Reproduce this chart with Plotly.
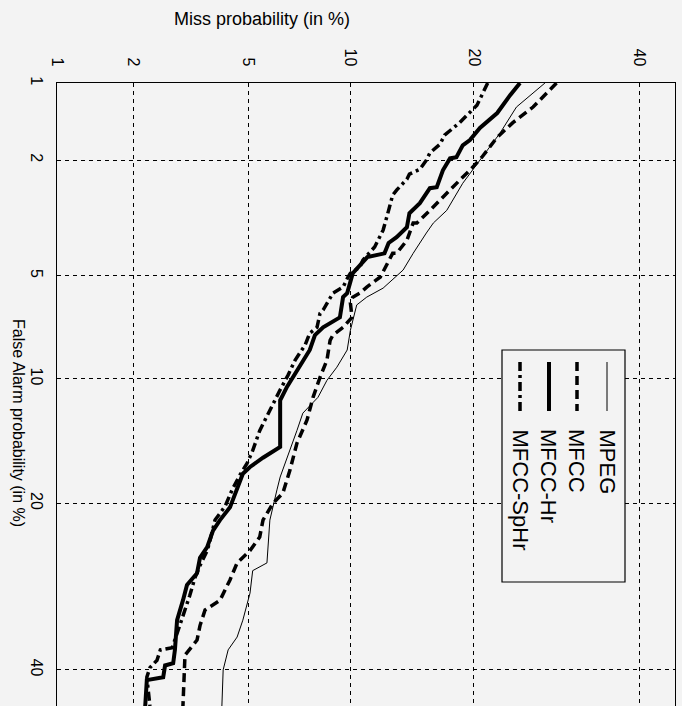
import plotly.graph_objects as go
from statistics import NormalDist

_nd = NormalDist()


def probit(p):
    return _nd.inv_cdf(p / 100.0)


# ---------------- data (percentages) ----------------
tick_values = [1, 2, 5, 10, 20, 40]
tick_labels = ["1", "2", "5", "10", "20", "40"]
axis_limits = [1, 45]

mpeg_miss = [27.8, 24.5, 22.7, 20.6, 18.9, 17.4, 16.2, 15.6, 14.8, 14.5, 13.7, 12.2, 11.06, 10.4,
             10.0, 9.8, 9.18, 8.61, 8.12, 7.34, 7.05, 6.59, 6.28, 6.14, 5.84, 5.72, 5.16, 5.06,
             4.80, 4.60, 4.30, 4.14, 4.10]
mpeg_fa = [1.0, 1.25, 1.58, 2.0, 2.43, 3.03, 3.35, 3.62, 4.03, 4.23, 4.79, 5.46, 5.82, 6.15,
           7.31, 8.33, 9.30, 10.1, 11.2, 12.3, 13.6, 15.8, 17.5, 18.7, 21.7, 26.4, 27.3, 30.0,
           33.4, 35.6, 37.3, 40.0, 45.0]

mfcc_miss = [29.2, 26.4, 24.1, 22.4, 20.8, 19.6, 18.6, 17.7, 17.4, 16.2, 15.9, 14.8, 14.5, 14.0,
             13.2, 12.9, 12.0, 11.06, 10.6, 10.15, 10.0, 10.1, 9.55, 8.95, 8.79, 8.61, 8.23,
             7.86, 7.55, 7.05, 6.72, 6.40, 5.97, 5.56, 5.43, 5.06, 4.60, 4.36, 4.04, 3.60, 3.46,
             3.38, 3.07, 3.02]
mfcc_fa = [1.0, 1.25, 1.44, 1.64, 1.95, 2.18, 2.37, 2.57, 2.64, 2.96, 3.03, 3.35, 3.35, 3.83,
           4.23, 4.23, 5.04, 5.42, 5.66, 5.82, 6.07, 6.70, 7.17, 7.55, 7.82, 8.90, 9.91,
           11.2, 12.8, 14.6, 16.9, 19.0, 20.0, 21.7, 23.5, 25.0, 26.4, 28.4, 30.9, 32.1, 34.1,
           36.0, 38.0, 45.0]

mfcc_hr_miss = [24.9, 23.8, 22.4, 21.3, 20.6, 19.6, 18.9, 18.3, 17.7, 17.05, 16.5, 15.9, 15.05,
                14.2, 14.0, 13.2, 12.6, 12.3, 11.1, 10.15, 9.8, 9.55, 9.36, 8.4, 7.96, 7.69,
                7.05, 6.59, 6.28, 6.28, 5.56, 5.06, 4.8, 4.6, 4.36, 4.04, 3.83, 3.66, 3.46,
                3.38, 3.12, 3.02, 2.88, 2.83, 2.79, 2.61, 2.57, 2.24, 2.21]
mfcc_hr_fa = [1.0, 1.12, 1.32, 1.44, 1.51, 1.68, 1.76, 1.95, 1.97, 2.18, 2.51, 2.53, 2.86,
              3.10, 3.46, 3.74, 3.91, 4.23, 4.35, 4.90, 5.66, 5.82, 6.70, 7.17, 7.55, 8.33,
              9.48, 10.5, 11.4, 14.9, 15.8, 16.6, 17.2, 18.7, 20.4, 21.7, 22.8, 24.6, 25.8,
              27.6, 29.0, 30.9, 33.4, 37.3, 39.1, 39.4, 41.0, 41.4, 45.0]

mfcc_sphr_miss = [21.4, 20.3, 18.6, 17.2, 16.8, 15.9, 15.6, 15.05, 14.2, 14.0, 13.2, 12.9, 12.6,
                  12.2, 11.6, 10.8, 10.6, 10.0, 9.85, 9.55, 8.95, 8.4, 8.23, 8.07, 7.69, 7.45,
                  6.96, 6.63, 6.28, 5.84, 5.43, 5.16, 4.95, 4.70, 4.43, 4.20, 3.89, 3.74, 3.66,
                  3.46, 3.32, 3.19, 3.07, 2.95, 2.77, 2.51, 2.44, 2.30, 2.24, 2.30]
mfcc_sphr_fa = [1.0, 1.23, 1.44, 1.61, 1.74, 1.88, 2.0, 2.16, 2.25, 2.35, 2.57, 2.68, 3.03,
                3.54, 4.03, 4.45, 4.69, 4.90, 5.04, 5.42, 5.66, 6.37, 6.52, 7.17, 7.46, 8.07,
                8.90, 9.79, 10.7, 12.1, 13.6, 15.2, 16.3, 17.3, 18.7, 20.3, 21.7, 23.9, 25.0,
                26.7, 28.2, 30.3, 32.1, 34.1, 37.0, 37.3, 38.7, 39.7, 41.0, 45.0]

series_names = ["MPEG", "MFCC", "MFCC-Hr", "MFCC-SpHr"]

# ---------------- figure ----------------
W, H = 682, 706
L, R, T, B = 57, 7, 83, 0
BG = "#f3f3f3"


def px_x(px):
    return (px - L) / (W - L - R)


def px_y(py):
    return (H - B - py) / (H - T - B)


styles = [
    dict(width=1.0, dash="solid"),
    dict(width=3.5, dash="9px,5px"),
    dict(width=4.0, dash="solid"),
    dict(width=3.5, dash="9px,4px,3px,4px"),
]
series = [
    (mpeg_miss, mpeg_fa),
    (mfcc_miss, mfcc_fa),
    (mfcc_hr_miss, mfcc_hr_fa),
    (mfcc_sphr_miss, mfcc_sphr_fa),
]

fig = go.Figure()
for name, (miss, fa), st in zip(series_names, series, styles):
    fig.add_trace(go.Scatter(
        x=[probit(v) for v in miss],
        y=[probit(v) for v in fa],
        mode="lines",
        name=name,
        line=dict(color="black", width=st["width"], dash=st["dash"]),
        showlegend=False,
        cliponaxis=True,
    ))

FONT = "Liberation Sans, Arial, sans-serif"
tickfont = dict(family=FONT, size=16, color="black")

fig.update_layout(
    width=W, height=H,
    margin=dict(l=L, r=R, t=T, b=B, pad=0),
    paper_bgcolor=BG,
    plot_bgcolor=BG,
    showlegend=False,
    xaxis=dict(
        side="top",
        range=[probit(axis_limits[0]), probit(axis_limits[1])],
        tickvals=[probit(v) for v in tick_values],
        ticktext=tick_labels,
        tickangle=90,
        tickfont=tickfont,
        ticklabelstandoff=10,
        showgrid=True, gridcolor="black", gridwidth=1, griddash="4px,4px",
        showline=True, linecolor="black", linewidth=1.2, mirror=False,
        zeroline=False, ticks="",
    ),
    yaxis=dict(
        range=[probit(axis_limits[1]), probit(axis_limits[0])],
        tickvals=[probit(v) for v in tick_values],
        ticktext=tick_labels,
        tickangle=90,
        tickfont=tickfont,
        ticklabelstandoff=6,
        showgrid=True, gridcolor="black", gridwidth=1, griddash="4px,4px",
        showline=True, linecolor="black", linewidth=1.2, mirror=True,
        zeroline=False, ticks="",
    ),
)

# axis titles
fig.add_annotation(
    text="Miss probability (in %)", xref="paper", yref="paper",
    x=px_x(262), y=px_y(19), showarrow=False, xanchor="center", yanchor="middle",
    font=dict(family=FONT, size=18, color="black"),
)
fig.add_annotation(
    text="False Alarm probability (in %)", xref="paper", yref="paper",
    x=px_x(18), y=px_y(423), showarrow=False, xanchor="center", yanchor="middle",
    textangle=90,
    font=dict(family=FONT, size=16, color="black"),
)

# legend (rotated, drawn manually)
fig.add_shape(type="rect", xref="paper", yref="paper",
              x0=px_x(502), x1=px_x(625), y0=px_y(582), y1=px_y(350),
              line=dict(color="black", width=1.2), fillcolor=BG, layer="above")
legend_x = [607, 577, 549, 520]
for name, st, lx in zip(series_names, styles, legend_x):
    fig.add_shape(type="line", xref="paper", yref="paper",
                  x0=px_x(lx), x1=px_x(lx), y0=px_y(362), y1=px_y(411),
                  line=dict(color="black", width=st["width"], dash=st["dash"]), layer="above")
    fig.add_annotation(
        text=name, xref="paper", yref="paper",
        x=px_x(lx), y=px_y(427), showarrow=False, xanchor="center", yanchor="top",
        textangle=90,
        font=dict(family=FONT, size=22, color="black"),
    )

fig.write_html("out.html")
